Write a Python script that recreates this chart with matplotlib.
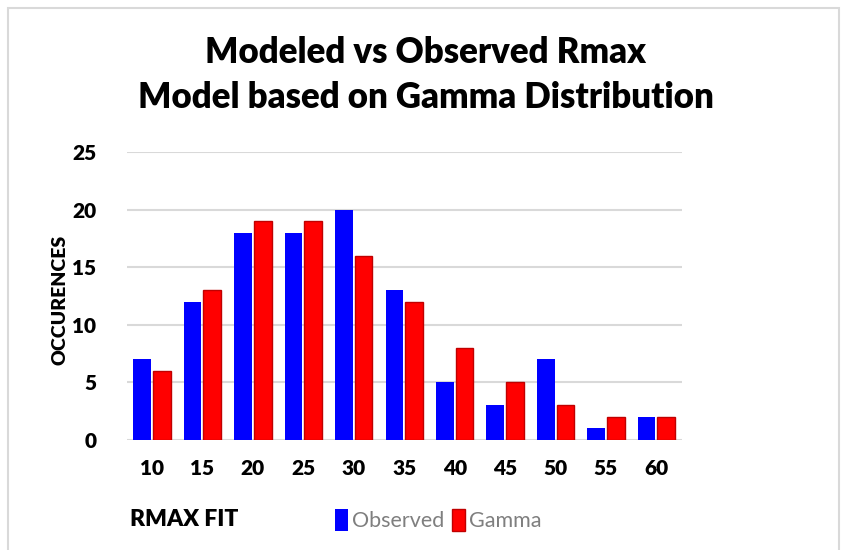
import matplotlib.pyplot as plt
import numpy as np
from matplotlib.patches import Rectangle

rmax_fit = ['10', '15', '20', '25', '30', '35', '40', '45', '50', '55', '60']
observed = [7, 12, 18, 18, 20, 13, 5, 3, 7, 1, 2]
gamma = [6, 13, 19, 19, 16, 12, 8, 5, 3, 2, 2]

plt.rcParams['font.family'] = ['Lato', 'DejaVu Sans']
plt.rcParams['font.weight'] = 'heavy'

fig = plt.figure(figsize=(8.51, 5.5), dpi=100)
ax = fig.add_axes([0.149, 0.2, 0.652, 0.5236])

x = np.arange(len(rmax_fit))
w = 0.35
ax.bar(x - 0.195, observed, w, color='#0000FF', label='Observed', zorder=3)
ax.bar(x + 0.195, gamma, w, color='#FF0000', edgecolor='#C00000', linewidth=1,
       label='Gamma', zorder=3)

ax.set_xlim(-0.5, len(rmax_fit) - 0.5)
ax.set_ylim(0, 25)
ax.set_yticks([0, 5, 10, 15, 20, 25])
ax.set_xticks(x)
ax.set_xticklabels(rmax_fit, fontweight='heavy')
ax.set_yticklabels([str(v) for v in [0, 5, 10, 15, 20, 25]], fontweight='heavy')
ax.yaxis.grid(True, color='#D9D9D9', linewidth=1.5, zorder=0)
ax.set_axisbelow(True)
for s in ax.spines.values():
    s.set_visible(False)
ax.tick_params(axis='both', length=0, labelsize=15)
ax.tick_params(axis='x', pad=14)
ax.tick_params(axis='y', pad=22)

fig.text(0.071, 0.455, 'OCCURENCES', rotation=90, ha='center', va='center',
         fontsize=14, fontweight='heavy')
fig.text(0.153, 0.055, 'RMAX FIT', ha='left', va='center',
         fontsize=16.5, fontweight='heavy')

fig.text(0.5, 0.905, 'Modeled vs Observed Rmax', ha='center', va='center',
         fontsize=25, fontweight='heavy')
fig.text(0.5, 0.823, 'Model based on Gamma Distribution', ha='center', va='center',
         fontsize=25, fontweight='heavy')

fig.legend(loc='center', bbox_to_anchor=(0.515, 0.055), ncol=2, frameon=False,
           prop={'size': 15.5, 'weight': 'normal'}, handlelength=0.6,
           handleheight=1.2, handletextpad=0.15, columnspacing=0.4,
           labelcolor='#7F7F7F')

fig.patches.append(Rectangle((0.009, -0.05), 0.977, 1.035, transform=fig.transFigure,
                             fill=False, edgecolor='#D9D9D9', linewidth=1.5))

fig.savefig('out.png', dpi=100)
